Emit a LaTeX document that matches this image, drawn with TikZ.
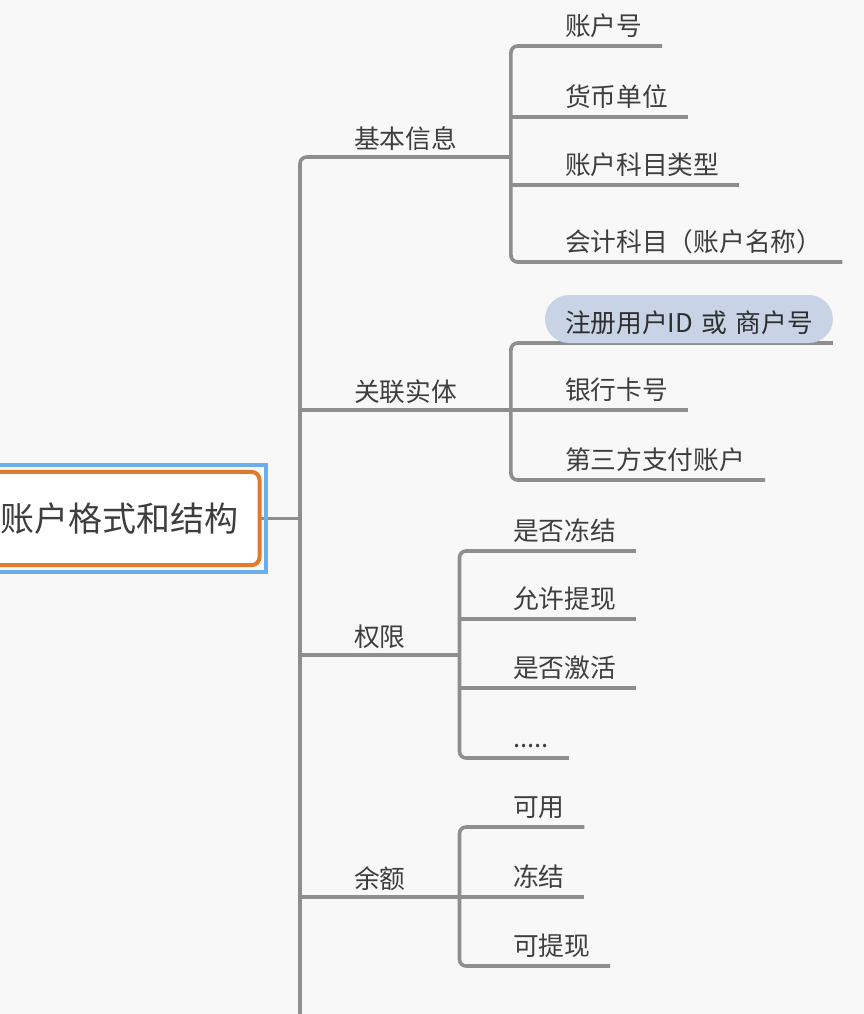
\documentclass[tikz,border=0pt]{standalone}
\usepackage{fontspec}
\newfontfamily\cjk{Noto Sans CJK SC}
\usetikzlibrary{calc}
\pgfdeclarelayer{bg}
\pgfsetlayers{bg,main}
\definecolor{linegray}{HTML}{8E8E8E}
\definecolor{txtgray}{HTML}{3E3E3E}
\definecolor{rootorange}{HTML}{E07B2E}
\definecolor{selblue}{HTML}{6AAFEA}
\definecolor{pillblue}{HTML}{C8D4E6}
\definecolor{paper}{HTML}{F8F8F8}

\begin{document}
\begin{tikzpicture}[x=.75pt,y=-.75pt,
  branch/.style={draw=linegray,line width=2.7pt,rounded corners=5pt},
  topic/.style={anchor=south west,inner xsep=40.5pt,inner ysep=0pt,outer sep=0pt,
    text height=15pt,text depth=6.75pt,font=\cjk\fontsize{19.3pt}{23pt}\selectfont,text=txtgray},
  leaf/.style={anchor=south west,inner xsep=15pt,inner ysep=2.25pt,outer sep=0pt,
    text height=25.5pt,text depth=6pt,font=\cjk\fontsize{19.3pt}{23pt}\selectfont,text=txtgray},
  pill/.style={leaf,fill=pillblue,rounded corners=18pt,text=black!82},
  root/.style={anchor=east,draw=rootorange,line width=3pt,fill=white,rounded corners=6pt,
    inner xsep=16pt,minimum height=70pt,outer sep=0pt,
    font=\cjk\fontsize{25.5pt}{30pt}\selectfont,text=txtgray},
  sel/.style={draw=selblue,line width=2.7pt}]
 \useasboundingbox (0,0) rectangle (864,1014);

 \node[root] (root) at (259.5,518.5) {账户格式和结构};
 \draw[sel] ([shift={(-20pt,5pt)}]root.north west) rectangle ([shift={(5pt,-5pt)}]root.south east);

 \node[topic] (k1) at (300,157) {基本信息};
 \node[topic] (k2) at (300,410) {关联实体};
 \node[topic] (k3) at (300,655) {权限};
 \node[topic] (k4) at (300,897) {余额};
 \coordinate (tail) at (300,1040);

 \node[leaf] (a1) at (545,46) {账户号};
 \node[leaf] (a2) at (545,117) {货币单位};
 \node[leaf] (a3) at (545,185) {账户科目类型};
 \node[leaf] (a4) at (545,262) {会计科目（账户名称）};

 \node[pill] (b1) at (545,343) {注册用户ID\hspace{6.3pt}或\hspace{6.3pt}商户号};
 \node[leaf] (b2) at (545,410) {银行卡号};
 \node[leaf] (b3) at (545,480) {第三方支付账户};

 \node[leaf] (c1) at (493,551) {是否冻结};
 \node[leaf] (c2) at (493,619) {允许提现};
 \node[leaf] (c3) at (493,688) {是否激活};
 \node[leaf] (c4) at (493,758) {.....};

 \node[leaf] (d1) at (493,827) {可用};
 \node[leaf] (d2) at (493,897) {冻结};
 \node[leaf] (d3) at (493,966) {可提现};

 \begin{pgfonlayer}{bg}
  \fill[paper] (0,0) rectangle (864,1014);
  \draw[branch] (root.east) -- (root.east -| k1.south west);
  \draw[branch] (k1.south east) -- (k1.south west) -- (tail);
  \draw[branch] (k2.south west) -- (k2.south east);
  \draw[branch] (k3.south west) -- (k3.south east);
  \draw[branch] (k4.south west) -- (k4.south east);

  \draw[branch] (a1.south east) -| (k1.south east) |- (a4.south east);
  \draw[branch] (k1.south east |- a2.south) -- (a2.south east);
  \draw[branch] (k1.south east |- a3.south) -- (a3.south east);

  \draw[branch] (b1.south east) -| (k2.south east) |- (b3.south east);
  \draw[branch] (k2.south east) -- (b2.south east);

  \draw[branch] (c1.south east) -| (k3.south east) |- (c4.south east);
  \draw[branch] (k3.south east |- c2.south) -- (c2.south east);
  \draw[branch] (k3.south east |- c3.south) -- (c3.south east);

  \draw[branch] (d1.south east) -| (k4.south east) |- (d3.south east);
  \draw[branch] (k4.south east) -- (d2.south east);
 \end{pgfonlayer}
\end{tikzpicture}
\end{document}
